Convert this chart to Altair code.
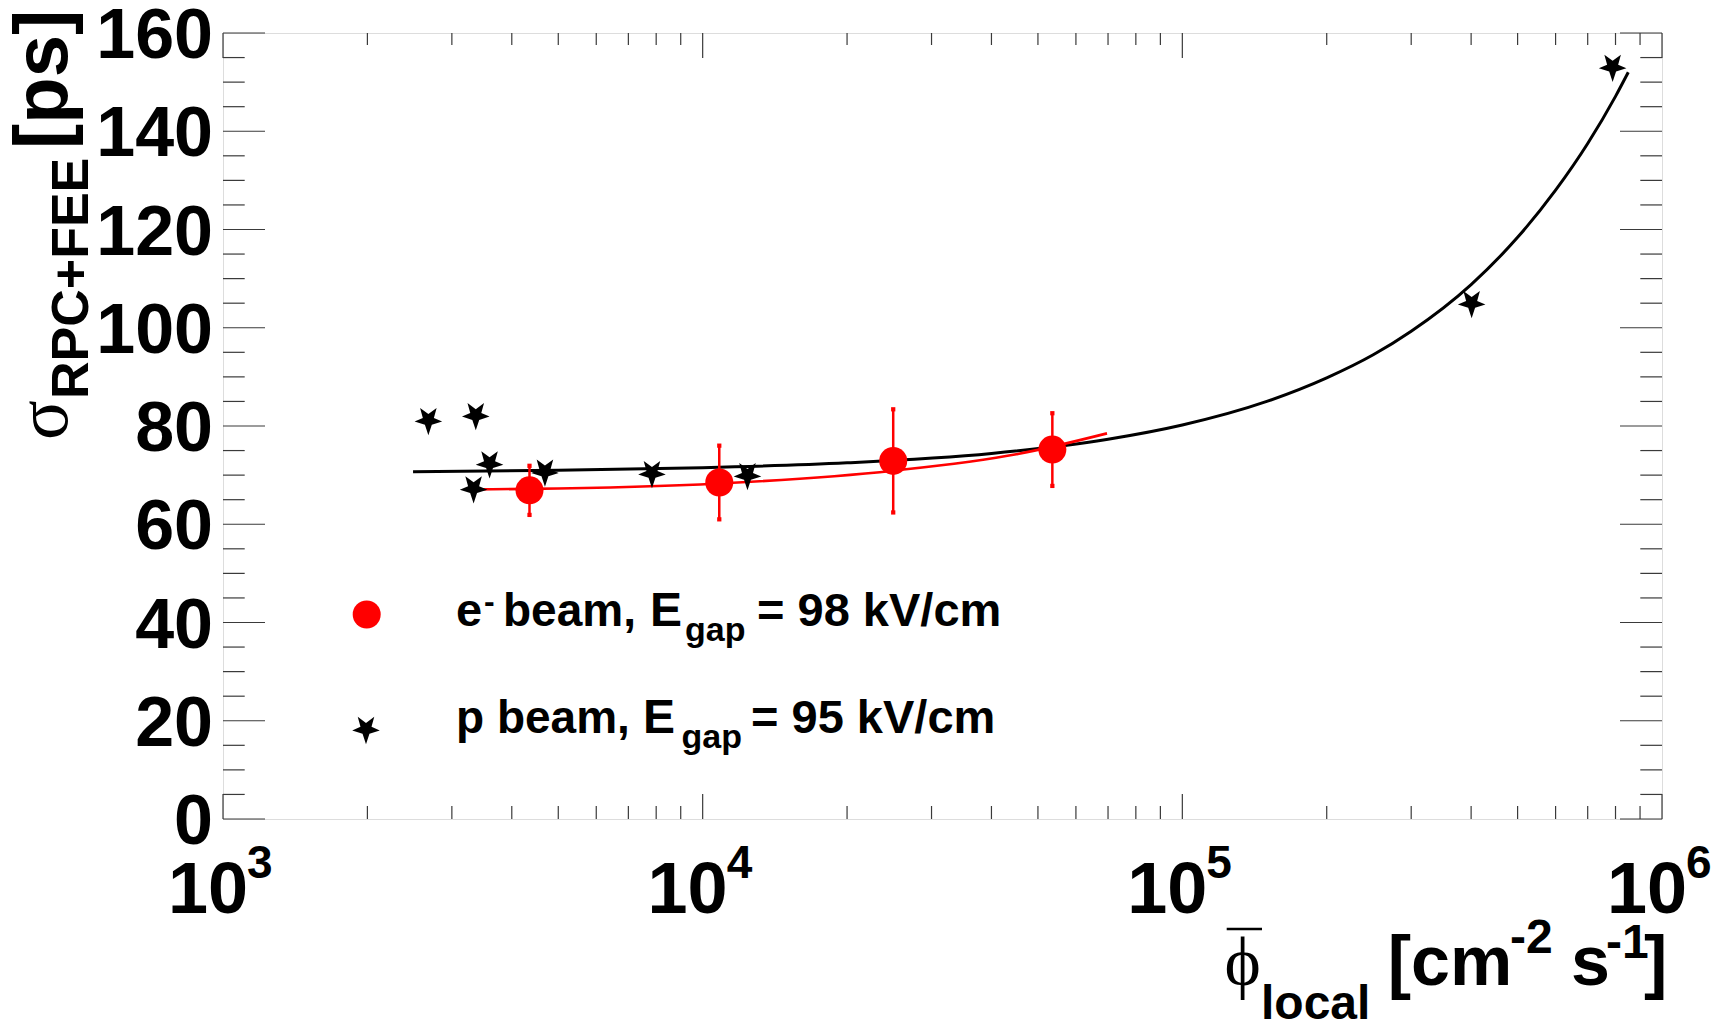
import altair as alt
import pandas as pd

# ---- measurements -------------------------------------------------------
# proton beam, E_gap = 95 kV/cm
p_flux = [2680, 3330, 3365, 3595, 4690, 7840, 12400, 401000, 789000]
p_sigma = [81.2, 67.3, 82.2, 72.4, 70.7, 70.4, 70.0, 105.0, 153.1]

# electron beam, E_gap = 98 kV/cm (with uncertainties)
e_flux = [4355, 10830, 24960, 53580]
e_sigma = [66.9, 68.5, 72.9, 75.2]
e_err = [5.0, 7.5, 10.5, 7.4]

# fitted curves
p_fit_flux = [2490, 5000, 10000, 20000, 40000, 70000, 100000, 150000, 200000,
              250000, 300000, 400000, 500000, 600000, 700000, 800000, 850500]
p_fit_sigma = [70.7, 71.0, 71.5, 72.5, 74.4, 77.3, 80.2, 85.0, 89.8,
               94.5, 99.3, 108.8, 118.4, 128.0, 137.5, 147.1, 152.0]
e_fit_flux = [3335, 4355, 10830, 24960, 45400, 69660]
e_fit_sigma = [67.1, 67.2, 68.3, 70.9, 74.3, 78.5]

# axis ticks
y_major = [0, 20, 40, 60, 80, 100, 120, 140, 160]
y_minor = [v for v in range(0, 161, 5) if v % 20 != 0]
x_decades = [3, 4, 5, 6]
x_minor = [m * 10 ** d for d in (3, 4, 5) for m in range(2, 10)]

# ---- layout -------------------------------------------------------------
W, H = 1439, 786
SANS = "Liberation Sans"
SERIF = "Liberation Serif"
FRAME = "#3a3a3a"

xs = alt.Scale(type="log", domain=[1e3, 1e6], nice=False)
ys = alt.Scale(domain=[0, 160], nice=False, zero=False)
X = alt.X("flux:Q", scale=xs, axis=None)
Y = alt.Y("sigma:Q", scale=ys, axis=None)

df_p = pd.DataFrame({"flux": p_flux, "sigma": p_sigma})
df_e = pd.DataFrame({"flux": e_flux, "sigma": e_sigma, "err": e_err})
df_pf = pd.DataFrame({"flux": p_fit_flux, "sigma": p_fit_sigma})
df_ef = pd.DataFrame({"flux": e_fit_flux, "sigma": e_fit_sigma})
df_ymaj = pd.DataFrame({"sigma": y_major, "lab": [str(v) for v in y_major]})
df_ymin = pd.DataFrame({"sigma": y_minor})
df_xmaj = pd.DataFrame({"flux": [10.0 ** d for d in x_decades],
                        "exp": [str(d) for d in x_decades]})
df_xmin = pd.DataFrame({"flux": x_minor})
ONE = pd.DataFrame({"k": [0]})

# inverted five-pointed star (ROOT-style marker)
STAR = ("M0,1.1 L-0.25,0.34 L-1,0.1 L-0.4,-0.16 L-0.6,-0.88 L0,-0.44 "
        "L0.6,-0.88 L0.4,-0.16 L1,0.1 L0.25,0.34 Z")
STAR_SIZE = 760
DOT_SIZE = 784


def tick_rules(df, lengths, horizontal):
    """Inward ticks on both sides of the frame."""
    a, b = lengths
    rule = dict(color=FRAME, strokeWidth=1.2)
    if horizontal:  # ticks along y on left and right edges
        return [
            alt.Chart(df).mark_rule(**rule).encode(y=Y, x=alt.value(0), x2=alt.value(a)),
            alt.Chart(df).mark_rule(**rule).encode(y=Y, x=alt.value(W), x2=alt.value(W - b)),
        ]
    return [  # ticks along x on bottom and top edges
        alt.Chart(df).mark_rule(**rule).encode(x=X, y=alt.value(H), y2=alt.value(H - a)),
        alt.Chart(df).mark_rule(**rule).encode(x=X, y=alt.value(0), y2=alt.value(b)),
    ]


def txt(s, x, y, size, font=SANS, weight="bold", angle=0, align="left"):
    return alt.Chart(ONE).mark_text(
        text=s, fontSize=size, font=font, fontWeight=weight, angle=angle,
        align=align, baseline="alphabetic", color="black"
    ).encode(x=alt.value(x), y=alt.value(y))


layers = []
layers += tick_rules(df_ymaj, (42, 42), True)
layers += tick_rules(df_ymin, (21.7, 21.7), True)
layers += tick_rules(df_xmaj, (25, 25), False)
layers += tick_rules(df_xmin, (13, 12), False)

# fits
layers.append(alt.Chart(df_pf).mark_line(color="black", strokeWidth=3,
                                         interpolate="monotone").encode(x=X, y=Y))
layers.append(alt.Chart(df_ef).mark_line(color="#ff0000", strokeWidth=2.6,
                                         interpolate="monotone").encode(x=X, y=Y))

# electron data: error bars, caps, markers
err_base = alt.Chart(df_e).transform_calculate(
    lo="datum.sigma - datum.err", hi="datum.sigma + datum.err")
layers.append(err_base.mark_rule(color="#ff0000", strokeWidth=2.5).encode(
    x=X, y=alt.Y("lo:Q", scale=ys, axis=None), y2="hi:Q"))
layers.append(err_base.mark_square(color="#ff0000", size=18, opacity=1).encode(
    x=X, y=alt.Y("lo:Q", scale=ys, axis=None)))
layers.append(err_base.mark_square(color="#ff0000", size=18, opacity=1).encode(
    x=X, y=alt.Y("hi:Q", scale=ys, axis=None)))
layers.append(alt.Chart(df_e).mark_point(shape="circle", filled=True, size=DOT_SIZE,
                                         color="#ff0000", opacity=1).encode(x=X, y=Y))

# proton data
layers.append(alt.Chart(df_p).mark_point(shape=STAR, filled=True, size=STAR_SIZE,
                                         color="black", opacity=1).encode(x=X, y=Y))

# y tick labels
layers.append(alt.Chart(df_ymaj).mark_text(
    font=SANS, fontWeight="bold", fontSize=70, align="right",
    baseline="alphabetic", dy=25, color="black"
).encode(y=Y, x=alt.value(-10), text="lab:N"))

# x tick labels: 10^n
layers.append(alt.Chart(df_xmaj).mark_text(
    text="10", font=SANS, fontWeight="bold", fontSize=72, align="right",
    baseline="alphabetic", dx=25, color="black"
).encode(x=X, y=alt.value(880)))
layers.append(alt.Chart(df_xmaj).mark_text(
    font=SANS, fontWeight="bold", fontSize=46, align="left",
    baseline="alphabetic", dx=24, color="black"
).encode(x=X, y=alt.value(845), text="exp:N"))

# y title: sigma_RPC+FEE [ps]
layers.append(txt("σ", -156, 407, 74, font=SERIF, weight="normal", angle=270))
layers.append(txt("RPC+FEE", -135, 366, 52, angle=270))
layers.append(txt("[ps]", -156, 116, 76, angle=270))

# x title: phi-bar_local [cm^-2 s^-1]
layers.append(txt("ϕ", 1001.5, 952, 69, font=SERIF, weight="normal"))
layers.append(alt.Chart(ONE).mark_rule(color="black", strokeWidth=2.5).encode(
    x=alt.value(1003.7), x2=alt.value(1039), y=alt.value(896)))
layers.append(txt("local", 1038, 986, 48))
layers.append(txt("[cm", 1164.7, 952, 70))
layers.append(txt("-2", 1287, 920, 48))
layers.append(txt("s", 1348, 952, 70))
layers.append(txt("-1", 1383, 925, 48))
layers.append(txt("]", 1421, 952, 70))

# legend
layers.append(alt.Chart(ONE).mark_point(shape="circle", filled=True, size=DOT_SIZE,
                                        color="#ff0000", opacity=1).encode(
    x=alt.value(143.7), y=alt.value(581.5)))
layers.append(alt.Chart(ONE).mark_point(shape=STAR, filled=True, size=STAR_SIZE,
                                        color="black", opacity=1).encode(
    x=alt.value(143), y=alt.value(696)))
layers.append(txt("e", 233, 593, 47))
layers.append(txt("-", 261, 579, 32))
layers.append(txt("beam,", 280, 593, 46))
layers.append(txt("E", 427, 593, 48))
layers.append(txt("gap", 462, 608, 34))
layers.append(txt("= 98 kV/cm", 534, 593, 47))
layers.append(txt("p beam,", 233, 700, 46))
layers.append(txt("E", 420, 700, 48))
layers.append(txt("gap", 458.5, 715, 34))
layers.append(txt("= 95 kV/cm", 528, 700, 47))

chart = alt.layer(*layers).properties(
    width=W, height=H,
    autosize=alt.AutoSizeParams(type="none"),
    padding={"left": 223, "top": 33, "right": 67, "bottom": 208},
).configure_view(stroke=FRAME, strokeWidth=1.5).configure(background="white")

chart.save("out.html", embed_options={"renderer": "svg", "actions": False})
